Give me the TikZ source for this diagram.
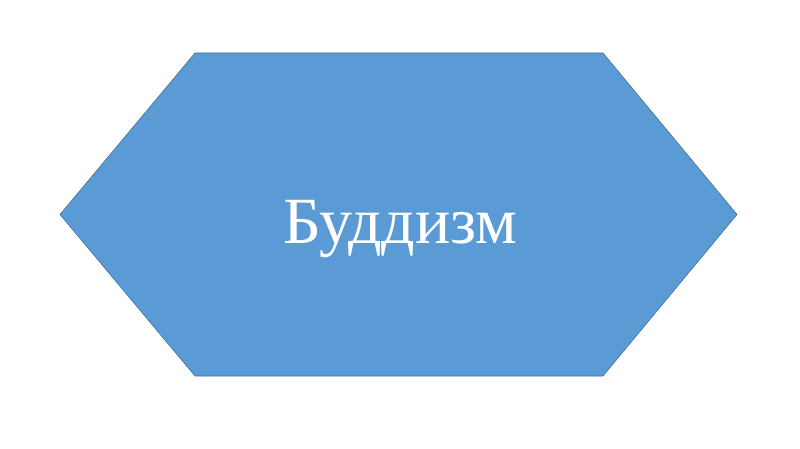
\documentclass[tikz,border=0pt]{standalone}
\usepackage{fontspec}
\setmainfont{Liberation Serif}
\definecolor{hexfill}{HTML}{5B9BD5}
\definecolor{hexline}{HTML}{41719C}
\tikzset{hexshape/.style={fill=hexfill,draw=hexline,line width=0.6pt},
  hextext/.style={text=white,font=\fontsize{66}{78}\selectfont,inner sep=0pt,anchor=base}}
\begin{document}
\begin{tikzpicture}[x=1pt,y=-1pt]
\useasboundingbox (0,0) rectangle (800,449);
\draw[hexshape] (60,214.5) -- (195,53) -- (603,53) -- (737,214.5) -- (603,376) -- (195,376) -- cycle;
\node[hextext] (lbl) at (400.5,243) {Буддизм};
\end{tikzpicture}
\end{document}
